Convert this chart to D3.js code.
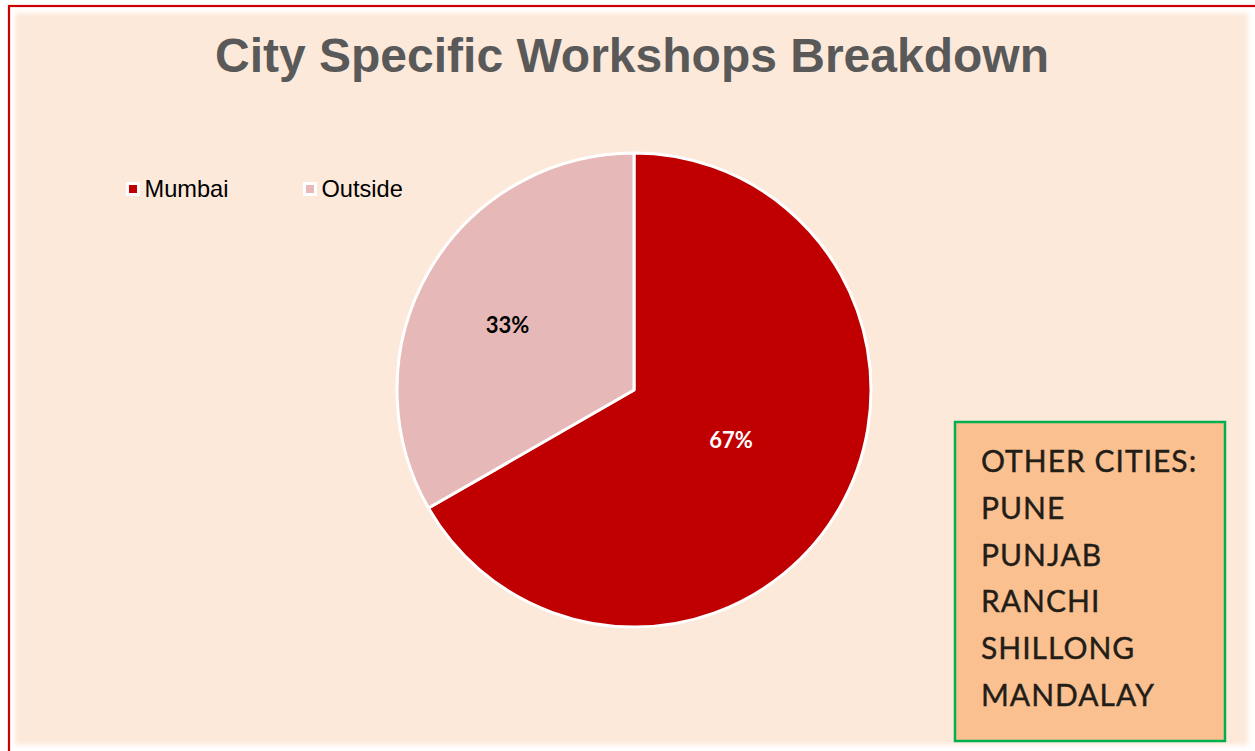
<!DOCTYPE html>
<html>
<head>
<meta charset="utf-8">
<script src="https://cdn.jsdelivr.net/npm/d3@7"></script>
<style>
  html, body { margin: 0; padding: 0; background: #ffffff; }
  svg { display: block; }
</style>
</head>
<body>
<script>
// ---- Data ----
const categories = ["Mumbai", "Outside"];
const shares = [66.7, 33.3];          // percent of workshops
const shareLabels = ["67%", "33%"];
const titleText = "City Specific Workshops Breakdown";
const noteLines = ["OTHER CITIES:", "PUNE", "PUNJAB", "RANCHI", "SHILLONG", "MANDALAY"];

// ---- Styles / layout ----
const W = 1255, H = 751;
const colors = { Mumbai: "#C00000", Outside: "#E6B9B8" };
const labelColors = { Mumbai: "#ffffff", Outside: "#000000" };
const labelRadiusFrac = { Mumbai: 0.46, Outside: 0.6 };
const labelAngleShift = -0.05;

const svg = d3.select("body").append("svg")
  .attr("width", W).attr("height", H);

const defs = svg.append("defs");
defs.append("filter").attr("id", "soft")
  .attr("x", "-5%").attr("y", "-5%").attr("width", "110%").attr("height", "110%")
  .append("feGaussianBlur").attr("stdDeviation", 2.5);

// page background
svg.append("rect").attr("width", W).attr("height", H).attr("fill", "#ffffff");

// chart area fill (soft edges)
svg.append("rect")
  .attr("x", 15).attr("y", 13).attr("width", 1233).attr("height", 732)
  .attr("fill", "#FDE9D9").attr("filter", "url(#soft)");

// red frame (top + left visible, continues beyond)
svg.append("rect")
  .attr("x", 9).attr("y", 6).attr("width", W + 20).attr("height", H + 20)
  .attr("fill", "none").attr("stroke", "#CC0000").attr("stroke-width", 2.2);

// title
svg.append("text")
  .attr("x", 632).attr("y", 72)
  .attr("text-anchor", "middle")
  .attr("font-family", "'Liberation Sans', Arial, sans-serif")
  .attr("font-weight", "bold")
  .attr("font-size", 48)
  .attr("fill", "#595959")
  .text(titleText);

// pie
const cx = 634, cy = 390, r = 237;
const pie = d3.pie().sort(null).value(d => d.value);
const data = categories.map((c, i) => ({ name: c, value: shares[i], label: shareLabels[i] }));
const arcs = pie(data);
const arc = d3.arc().innerRadius(0).outerRadius(r);

const g = svg.append("g").attr("transform", `translate(${cx},${cy})`);
g.selectAll("path.slice").data(arcs).join("path")
  .attr("class", "slice")
  .attr("d", arc)
  .attr("fill", d => colors[d.data.name])
  .attr("stroke", "#ffffff")
  .attr("stroke-width", 3)
  .attr("stroke-linejoin", "round");

g.selectAll("text.lbl").data(arcs).join("text")
  .attr("class", "lbl")
  .attr("transform", d => {
    const lr = r * labelRadiusFrac[d.data.name];
    const a = (d.startAngle + d.endAngle) / 2 + labelAngleShift;
    const x = Math.sin(a) * lr, y = -Math.cos(a) * lr;
    return `translate(${x},${y})`;
  })
  .attr("text-anchor", "middle")
  .attr("dy", "0.36em")
  .attr("font-family", "Lato, 'Open Sans', sans-serif")
  .attr("font-weight", "bold")
  .attr("font-size", 22)
  .attr("fill", d => labelColors[d.data.name])
  .text(d => d.data.label);

// legend
const legendX = [126, 303];
const legend = svg.append("g");
const li = legend.selectAll("g").data(categories).join("g")
  .attr("transform", (d, i) => `translate(${legendX[i]},182)`);
li.append("rect").attr("x", 0).attr("y", 0).attr("width", 14).attr("height", 14)
  .attr("fill", "#ffffff");
li.append("rect").attr("x", 3).attr("y", 3).attr("width", 8).attr("height", 8)
  .attr("fill", d => colors[d]);
li.append("text").attr("x", 18.5).attr("y", 15)
  .attr("font-family", "'Liberation Sans', Arial, sans-serif")
  .attr("font-size", 23.6)
  .attr("fill", "#000000")
  .text(d => d);

// note box
const box = svg.append("g");
box.append("rect")
  .attr("x", 955).attr("y", 422).attr("width", 270).attr("height", 319)
  .attr("fill", "#FAC090")
  .attr("stroke", "#00B050").attr("stroke-width", 2.5);
box.selectAll("text").data(noteLines).join("text")
  .attr("x", 981)
  .attr("y", (d, i) => 472 + i * 46.8)
  .attr("font-family", "Lato, 'Open Sans', sans-serif")
  .attr("font-size", 30)
  .attr("letter-spacing", 1)
  .attr("fill", "#231d18")
  .attr("stroke", "#231d18")
  .attr("stroke-width", 0.4)
  .text(d => d);
</script>
</body>
</html>
